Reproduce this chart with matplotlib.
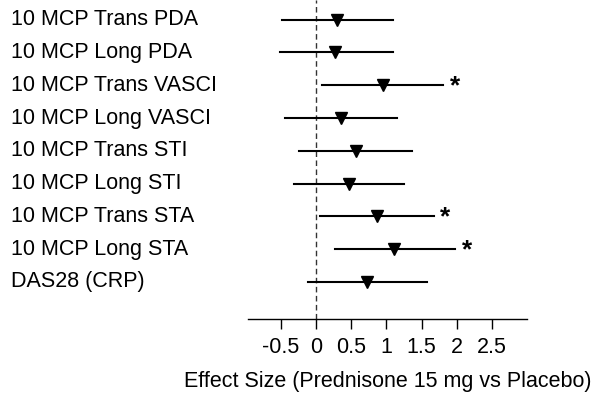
import matplotlib
matplotlib.use("Agg")
import matplotlib.pyplot as plt
import matplotlib.transforms as mtransforms

plt.rcParams["font.family"] = ["Liberation Sans", "DejaVu Sans"]

labels = [
    "10 MCP Trans PDA",
    "10 MCP Long PDA",
    "10 MCP Trans VASCI",
    "10 MCP Long VASCI",
    "10 MCP Trans STI",
    "10 MCP Long STI",
    "10 MCP Trans STA",
    "10 MCP Long STA",
    "DAS28 (CRP)",
]
effect = [0.30, 0.27, 0.95, 0.36, 0.57, 0.47, 0.86, 1.11, 0.73]
ci_low = [-0.48, -0.51, 0.09, -0.44, -0.24, -0.31, 0.06, 0.27, -0.11]
ci_high = [1.10, 1.09, 1.80, 1.15, 1.37, 1.25, 1.67, 1.98, 1.57]
significant = [False, False, True, False, False, False, True, True, False]

xticks = [-0.5, 0, 0.5, 1, 1.5, 2, 2.5]
xtick_labels = ["-0.5", "0", "0.5", "1", "1.5", "2", "2.5"]

FS = 15.5

fig = plt.figure(figsize=(5.91, 3.93), dpi=100)
ax = fig.add_axes([248 / 591, 74 / 393, 279 / 591, 319 / 393])

n = len(labels)
ys = [n - i for i in range(n)]

ax.axvline(0, color="#333333", lw=1, ls=(0, (4, 2.5)), zorder=1)

for y, e, lo, hi, sig in zip(ys, effect, ci_low, ci_high, significant):
    ax.plot([lo, hi], [y, y], color="black", lw=1.5, zorder=2)
    ax.plot(e, y, marker="v", color="black", markersize=9, zorder=3)
    if sig:
        ax.text(hi + 0.17, y - 0.04, "*", fontsize=19, fontweight="bold",
                ha="center", va="center")

trans = mtransforms.blended_transform_factory(fig.transFigure, ax.transData)
for y, lab in zip(ys, labels):
    ax.text(11 / 591, y, lab, transform=trans, fontsize=FS, ha="left", va="center")

ax.set_xlim(-0.97, 3.0)
ax.set_ylim(-0.13, n + 0.6)
ax.set_xticks(xticks)
ax.set_xticklabels(xtick_labels, fontsize=FS)
ax.set_yticks([])
ax.tick_params(axis="x", direction="out", length=7, width=1, pad=6)
for side in ["top", "right", "left"]:
    ax.spines[side].set_visible(False)
ax.spines["bottom"].set_linewidth(1)
ax.set_xlabel("Effect Size (Prednisone 15 mg vs Placebo)", fontsize=FS, labelpad=9)

fig.savefig("out.png", dpi=100)
